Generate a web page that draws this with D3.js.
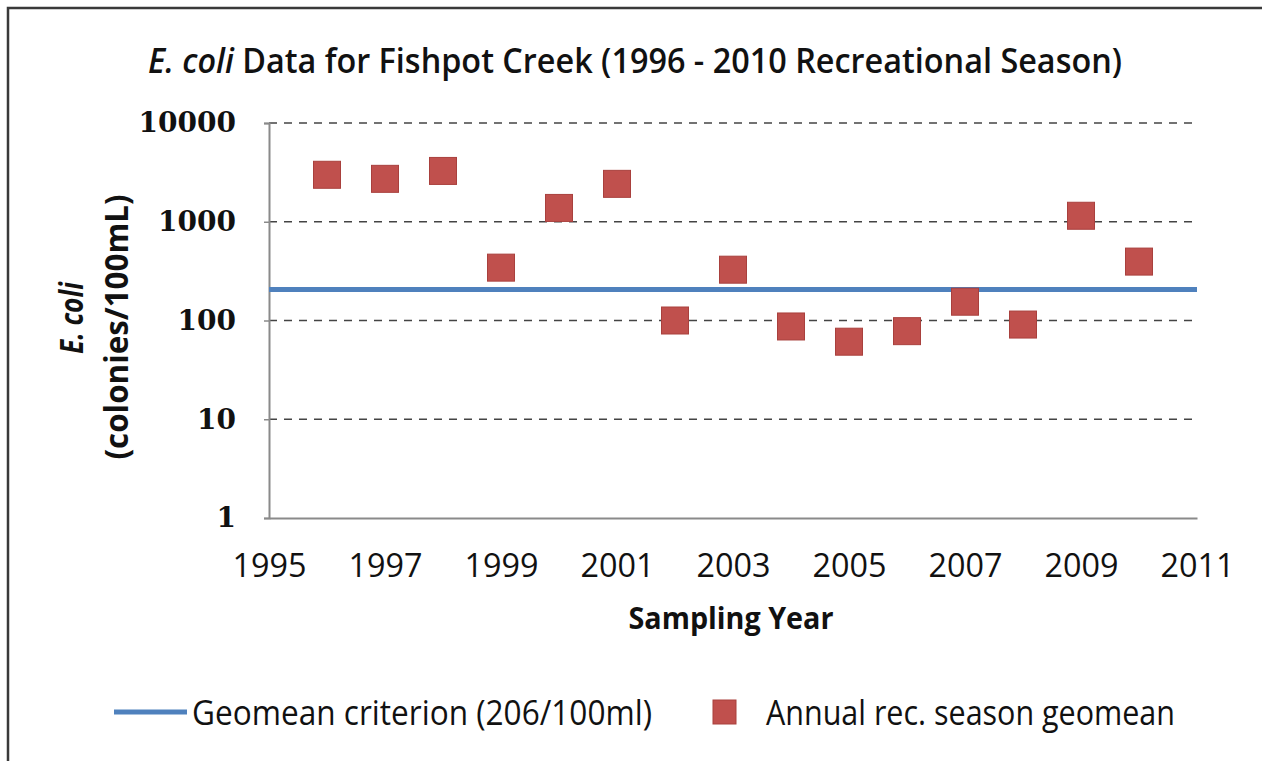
<!DOCTYPE html>
<html>
<head>
<meta charset="utf-8">
<script src="https://cdn.jsdelivr.net/npm/d3@7"></script>
<style>
  body { margin: 0; background: #fff; }
  svg { display: block; }
  .cal { font-family: "Liberation Sans Narrow", "Open Sans", "DejaVu Sans Condensed", sans-serif; }
</style>
</head>
<body>
<div id="chart"></div>
<script>
// sampling years and annual recreational season geomeans (colonies/100mL)
let years = [1996, 1997, 1998, 1999, 2000, 2001, 2002, 2003, 2004, 2005, 2006, 2007, 2008, 2009, 2010];
let geomeans = [2990, 2720, 3270, 343, 1380, 2420, 100, 327, 87, 61, 78, 155, 91, 1150, 395];
let criterion = 206;
let yTicks = [1, 10, 100, 1000, 10000];
let xTicks = [1995, 1997, 1999, 2001, 2003, 2005, 2007, 2009, 2011];

let width = 1262;
let height = 761;
let plot = {left: 269, right: 1197, top: 123, bottom: 518};
let red = "#c0504d";
let blue = "#4f81bd";

let svg = d3.select("#chart").append("svg")
  .attr("width", width)
  .attr("height", height);

// outer frame
svg.append("rect")
  .attr("x", 8).attr("y", 8)
  .attr("width", width + 10).attr("height", height + 10)
  .attr("fill", "none")
  .attr("stroke", "#3a3a3a")
  .attr("stroke-width", 2.5);

let x = d3.scaleLinear().domain([1995, 2011]).range([plot.left, plot.right]);
let y = d3.scaleLog().domain([1, 10000]).range([plot.bottom, plot.top]);

// grid lines
svg.append("g")
  .selectAll("line")
  .data(yTicks.slice(1))
  .enter()
  .append("line")
  .attr("x1", plot.left).attr("x2", plot.right)
  .attr("y1", d => y(d)).attr("y2", d => y(d))
  .attr("stroke", "#444")
  .attr("stroke-width", 1.6)
  .attr("stroke-dasharray", "8,7");

// y axis
let yAxis = svg.append("g")
  .attr("transform", "translate(" + plot.left + ",0)")
  .call(d3.axisLeft(y).tickValues(yTicks).tickSize(5).tickFormat(d3.format("d")).tickPadding(28));
yAxis.select(".domain").attr("stroke", "#8a8a8a").attr("stroke-width", 2);
yAxis.selectAll(".tick line").attr("stroke", "#8a8a8a").attr("stroke-width", 1.5);
yAxis.selectAll(".tick text")
  .attr("fill", "#111")
  .style("font-family", "'DejaVu Serif', serif")
  .style("font-weight", "bold")
  .style("font-size", "28px");

// x axis
let xAxis = svg.append("g")
  .attr("transform", "translate(0," + plot.bottom + ")")
  .call(d3.axisBottom(x).tickValues(xTicks).tickSize(0).tickFormat(d3.format("d")).tickPadding(36));
xAxis.select(".domain").attr("stroke", "#8a8a8a").attr("stroke-width", 2);
xAxis.selectAll(".tick text")
  .attr("class", "cal")
  .attr("fill", "#111")
  .style("font-size", "33px")
  .attr("textLength", 74)
  .attr("lengthAdjust", "spacingAndGlyphs");

// geomean criterion line
svg.append("line")
  .attr("x1", plot.left).attr("x2", plot.right)
  .attr("y1", y(criterion)).attr("y2", y(criterion))
  .attr("stroke", blue)
  .attr("stroke-width", 5);

// annual geomean markers
let size = 27;
svg.append("g")
  .selectAll("rect")
  .data(years)
  .enter()
  .append("rect")
  .attr("x", (d, i) => x(d) - size / 2)
  .attr("y", (d, i) => y(geomeans[i]) - size / 2)
  .attr("width", size)
  .attr("height", size)
  .attr("fill", red)
  .attr("stroke", "#a9403d")
  .attr("stroke-width", 1);

// title
let title = svg.append("text")
  .attr("class", "cal")
  .attr("x", 635).attr("y", 73)
  .attr("text-anchor", "middle")
  .style("font-size", "34px")
  .style("font-weight", "600")
  .attr("fill", "#111")
  .attr("textLength", 974)
  .attr("lengthAdjust", "spacingAndGlyphs");
title.append("tspan").style("font-style", "italic").text("E. coli");
title.append("tspan").text(" Data for Fishpot Creek (1996 - 2010 Recreational Season)");

// y axis title
let yTitle = svg.append("g").attr("transform", "translate(83,318) rotate(-90)");
yTitle.append("text")
  .attr("class", "cal")
  .attr("text-anchor", "middle")
  .style("font-size", "32px")
  .style("font-weight", "bold")
  .style("font-style", "italic")
  .attr("fill", "#111")
  .attr("textLength", 72)
  .attr("lengthAdjust", "spacingAndGlyphs")
  .text("E. coli");
yTitle.append("text")
  .attr("class", "cal")
  .attr("x", -9)
  .attr("y", 45)
  .attr("text-anchor", "middle")
  .style("font-size", "32px")
  .style("font-weight", "bold")
  .attr("fill", "#111")
  .attr("textLength", 265)
  .attr("lengthAdjust", "spacingAndGlyphs")
  .text("(colonies/100mL)");

// x axis title
svg.append("text")
  .attr("class", "cal")
  .attr("x", 731).attr("y", 629)
  .attr("text-anchor", "middle")
  .style("font-size", "31px")
  .style("font-weight", "bold")
  .attr("fill", "#111")
  .attr("textLength", 205)
  .attr("lengthAdjust", "spacingAndGlyphs")
  .text("Sampling Year");

// legend
let legend = svg.append("g");
legend.append("line")
  .attr("x1", 114).attr("x2", 187)
  .attr("y1", 712).attr("y2", 712)
  .attr("stroke", blue)
  .attr("stroke-width", 5);
legend.append("text")
  .attr("class", "cal")
  .attr("x", 192).attr("y", 725)
  .style("font-size", "34px")
  .attr("fill", "#111")
  .attr("textLength", 460)
  .attr("lengthAdjust", "spacingAndGlyphs")
  .text("Geomean criterion (206/100ml)");
legend.append("rect")
  .attr("x", 713).attr("y", 700)
  .attr("width", 23).attr("height", 24)
  .attr("fill", red)
  .attr("stroke", "#a9403d");
legend.append("text")
  .attr("class", "cal")
  .attr("x", 766).attr("y", 725)
  .style("font-size", "34px")
  .attr("fill", "#111")
  .attr("textLength", 409)
  .attr("lengthAdjust", "spacingAndGlyphs")
  .text("Annual rec. season geomean");
</script>
</body>
</html>
